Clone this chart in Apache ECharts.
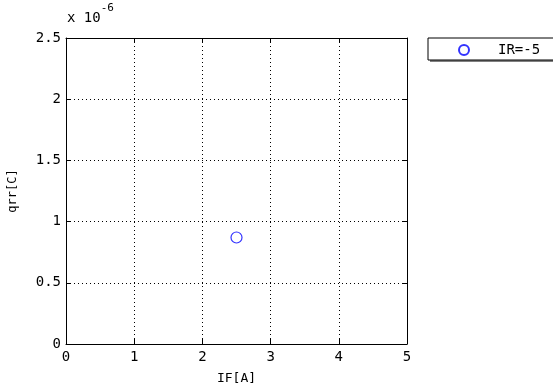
<!DOCTYPE html>
<html><head><meta charset="utf-8">
<script src="https://cdn.jsdelivr.net/npm/echarts@6/dist/echarts.min.js"></script>
<style>html,body{margin:0;padding:0;background:#fff}#c{width:553px;height:391px}</style>
</head><body><div id="c"></div>
<script>
const seriesName = 'IR=-5';
const xValues = [2.5];
const yValues = [0.87e-6];
const xTicks = [0, 1, 2, 3, 4, 5];
const yTicks = [0, 0.5, 1, 1.5, 2, 2.5];
const yScale = 1e-6;

const font = 'DejaVu Sans Mono';
const chart = echarts.init(document.getElementById('c'), null, {renderer: 'canvas'});
const axisCommon = {
  axisLine: {show: true, onZero: false, lineStyle: {color: '#000', width: 1}},
  axisTick: {show: true, inside: true, length: 5, lineStyle: {color: '#000'}},
  splitLine: {show: false}
};
chart.setOption({
  animation: false,
  backgroundColor: '#fff',
  grid: {left: 66, right: 146, top: 38, bottom: 47, containLabel: false, outerBoundsMode: 'none'},
  xAxis: [{
    type: 'value', min: xTicks[0], max: xTicks[xTicks.length - 1], interval: 1, position: 'bottom',
    name: 'IF[A]', nameLocation: 'middle', nameGap: 28,
    nameTextStyle: {color: '#000', fontFamily: font, fontSize: 13},
    axisLabel: {color: '#000', fontFamily: font, fontSize: 14, margin: 6},
    ...axisCommon,
    splitLine: {show: true, lineStyle: {color: '#000', type: [1, 3], width: 1}}
  }, {
    type: 'value', min: xTicks[0], max: xTicks[xTicks.length - 1], interval: 1, position: 'top',
    axisLabel: {show: false}, ...axisCommon
  }],
  yAxis: [{
    type: 'value', min: yTicks[0] * yScale, max: yTicks[yTicks.length - 1] * yScale, interval: 0.5 * yScale,
    position: 'left',
    name: 'qrr[C]', nameLocation: 'middle', nameGap: 47, nameRotate: 90,
    nameTextStyle: {color: '#000', fontFamily: font, fontSize: 12},
    axisLabel: {color: '#000', fontFamily: font, fontSize: 14, margin: 5,
      formatter: v => String(parseFloat((v / yScale).toFixed(6)))},
    ...axisCommon,
    splitLine: {show: true, lineStyle: {color: '#000', type: [1, 3], width: 1}}
  }, {
    type: 'value', min: yTicks[0] * yScale, max: yTicks[yTicks.length - 1] * yScale, interval: 0.5 * yScale,
    position: 'right', axisLabel: {show: false}, ...axisCommon
  }],
  legend: {
    show: true, left: 458, top: 43, orient: 'vertical',
    data: [seriesName],
    itemWidth: 16, itemHeight: 10, padding: 0,
    textStyle: {color: '#000', fontFamily: font, fontSize: 14, padding: [0, 0, 0, 21]}
  },
  graphic: [
    {type: 'rect', shape: {x: 430, y: 40, width: 140, height: 22}, style: {fill: '#808080'}, z: -1, silent: true},
    {type: 'rect', shape: {x: 428, y: 38, width: 140, height: 22}, style: {fill: '#fff', stroke: '#000', lineWidth: 1}, z: 0, silent: true},
    {type: 'text', left: 67, top: 3, style: {
      text: '{a|x 10}{b|-6}', rich: {
        a: {fontFamily: font, fontSize: 14, fill: '#000', verticalAlign: 'bottom', padding: [8, 0, 0, 0]},
        b: {fontFamily: font, fontSize: 11, fill: '#000', verticalAlign: 'top'}
      }
    }}
  ],
  series: [{
    name: seriesName, type: 'scatter',
    data: xValues.map((x, i) => [x, yValues[i]]),
    symbol: 'circle', symbolSize: 11,
    itemStyle: {color: '#fff', borderColor: '#0000ff', borderWidth: 1.2}
  }]
});
</script></body></html>
